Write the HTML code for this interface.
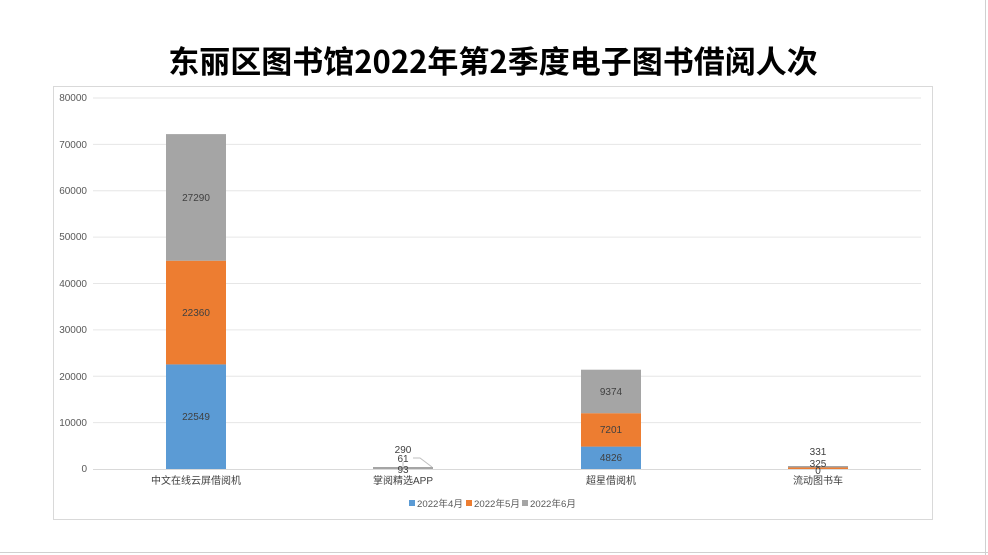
<!DOCTYPE html>
<html><head><meta charset="utf-8"><style>
body{margin:0;width:988px;height:555px;background:#fff;overflow:hidden;font-family:"Liberation Sans","Noto Sans CJK SC",sans-serif;}
</style></head><body>
<svg width="988" height="555" xmlns="http://www.w3.org/2000/svg" style="position:absolute;left:0;top:0;font-family:'Liberation Sans','Noto Sans CJK SC',sans-serif">
<line x1="0" y1="552.5" x2="988" y2="552.5" stroke="#d0d0d0"/>
<line x1="985.5" y1="0" x2="985.5" y2="555" stroke="#d0d0d0"/>
<text x="493" y="73" text-anchor="middle" font-size="31" font-weight="bold" fill="#000" font-family="'Noto Sans CJK SC',sans-serif">东丽区图书馆2022年第2季度电子图书借阅人次</text>
<rect x="53.5" y="86.5" width="879" height="433" fill="#fff" stroke="#d9d9d9"/>
<g stroke="#e6e6e6">
<line x1="93" x2="921" y1="98" y2="98"/><line x1="93" x2="921" y1="144.4" y2="144.4"/>
<line x1="93" x2="921" y1="190.8" y2="190.8"/><line x1="93" x2="921" y1="237.1" y2="237.1"/>
<line x1="93" x2="921" y1="283.5" y2="283.5"/><line x1="93" x2="921" y1="329.9" y2="329.9"/>
<line x1="93" x2="921" y1="376.3" y2="376.3"/><line x1="93" x2="921" y1="422.6" y2="422.6"/>
</g>
<g font-size="10" fill="#595959" text-anchor="end">
<text x="87" y="101">80000</text><text x="87" y="148">70000</text><text x="87" y="194">60000</text>
<text x="87" y="240">50000</text><text x="87" y="287">40000</text><text x="87" y="333">30000</text>
<text x="87" y="380">20000</text><text x="87" y="426">10000</text><text x="87" y="472">0</text>
</g>
<rect x="166" y="364.4" width="60" height="104.6" fill="#5b9bd5"/>
<rect x="166" y="260.7" width="60" height="103.7" fill="#ed7d31"/>
<rect x="166" y="134.1" width="60" height="126.6" fill="#a5a5a5"/>
<rect x="581" y="446.6" width="60" height="22.4" fill="#5b9bd5"/>
<rect x="581" y="413.2" width="60" height="33.4" fill="#ed7d31"/>
<rect x="581" y="369.7" width="60" height="43.5" fill="#a5a5a5"/>
<rect x="373" y="467" width="60" height="2" fill="#a5a5a5"/>
<rect x="788" y="467.5" width="60" height="1.5" fill="#ed7d31"/>
<rect x="788" y="466" width="60" height="1.5" fill="#a5a5a5"/>
<line x1="93" x2="921" y1="469.5" y2="469.5" stroke="#d9d9d9"/>
<polyline points="413,458 420,458 432,467" fill="none" stroke="#bfbfbf"/>
<line x1="403" y1="462" x2="403" y2="468" stroke="#bfbfbf"/>
<g font-size="10" fill="#404040" text-anchor="middle">
<text x="196" y="420">22549</text><text x="196" y="316">22360</text><text x="196" y="201">27290</text>
<text x="611" y="461">4826</text><text x="611" y="433">7201</text><text x="611" y="395">9374</text>
<text x="403" y="453">290</text><text x="403" y="462">61</text><text x="403" y="473">93</text>
<text x="818" y="455">331</text><text x="818" y="467">325</text><text x="818" y="474">0</text>
</g>
<g font-size="10" fill="#404040" text-anchor="middle">
<text x="196" y="484">中文在线云屏借阅机</text><text x="403" y="484">掌阅精选APP</text>
<text x="611" y="484">超星借阅机</text><text x="818" y="484">流动图书车</text>
</g>
<g font-size="9.5" fill="#595959">
<rect x="409" y="500" width="6" height="6" fill="#5b9bd5"/><text x="417" y="507" textLength="46" lengthAdjust="spacingAndGlyphs">2022年4月</text>
<rect x="466" y="500" width="6" height="6" fill="#ed7d31"/><text x="474" y="507" textLength="46" lengthAdjust="spacingAndGlyphs">2022年5月</text>
<rect x="522" y="500" width="6" height="6" fill="#a5a5a5"/><text x="530" y="507" textLength="46" lengthAdjust="spacingAndGlyphs">2022年6月</text>
</g>
</svg>
</body></html>
